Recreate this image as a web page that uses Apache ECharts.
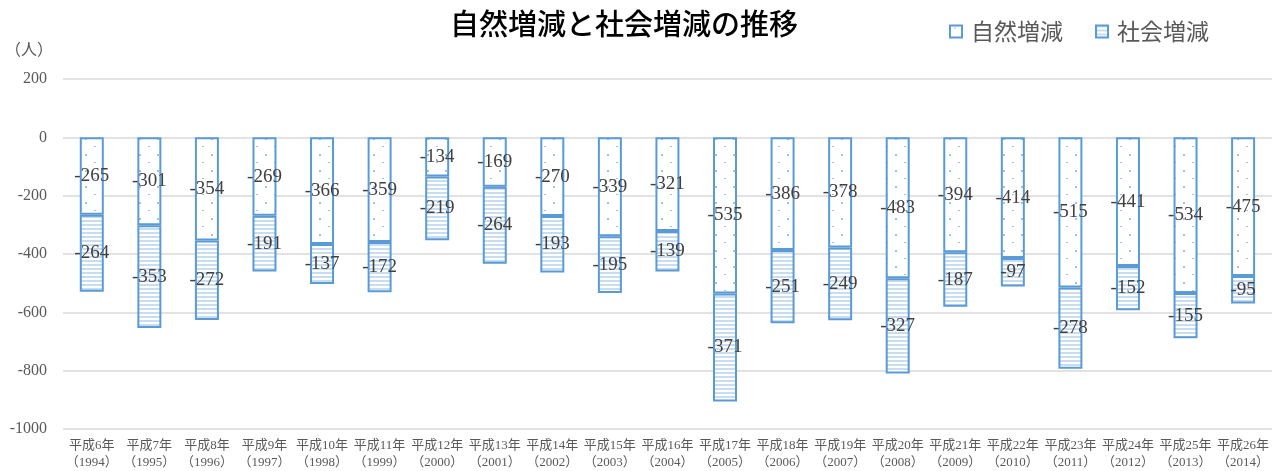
<!DOCTYPE html>
<html><head><meta charset="utf-8">
<script src="https://cdn.jsdelivr.net/npm/echarts@6/dist/echarts.min.js"></script>
<style>html,body{margin:0;padding:0;background:#fff}#c{width:1272px;height:471px}</style>
</head><body><div id="c"></div>
<script>
const categories = ['平成6年\n（1994）','平成7年\n（1995）','平成8年\n（1996）','平成9年\n（1997）','平成10年\n（1998）','平成11年\n（1999）','平成12年\n（2000）','平成13年\n（2001）','平成14年\n（2002）','平成15年\n（2003）','平成16年\n（2004）','平成17年\n（2005）','平成18年\n（2006）','平成19年\n（2007）','平成20年\n（2008）','平成21年\n（2009）','平成22年\n（2010）','平成23年\n（2011）','平成24年\n（2012）','平成25年\n（2013）','平成26年\n（2014）'];
const naturalChange = [-265,-301,-354,-269,-366,-359,-134,-169,-270,-339,-321,-535,-386,-378,-483,-394,-414,-515,-441,-534,-475];
const socialChange = [-264,-353,-272,-191,-137,-172,-219,-264,-193,-195,-139,-371,-251,-249,-327,-187,-97,-278,-152,-155,-95];
const seriesNames = ['自然増減','社会増減'];

function dotPattern(){
  const c=document.createElement('canvas');c.width=18;c.height=16;
  const g=c.getContext('2d');g.fillStyle='#fff';g.fillRect(0,0,18,16);
  g.fillStyle='#9DC3E6';g.fillRect(4,2,2,1);g.fillRect(13,10,2,2);
  return c;
}
function stripePattern(){
  const c=document.createElement('canvas');c.width=8;c.height=4;
  const g=c.getContext('2d');g.fillStyle='#fff';g.fillRect(0,0,8,4);
  g.fillStyle='#C9DDF0';g.fillRect(0,0,8,2);
  return c;
}
const serif = "'Liberation Serif','Noto Sans CJK JP',serif";
const chart = echarts.init(document.getElementById('c'));
const lbl = {show:true,position:'inside',color:'#404040',fontFamily:serif,fontSize:19};
chart.setOption({
  animation:false,
  title:{text:'自然増減と社会増減の推移',left:619,textAlign:'center',top:4,textStyle:{fontFamily:"'Noto Sans CJK JP',sans-serif",fontSize:29,fontWeight:500,color:'#000'}},
  legend:{left:944,top:15,itemWidth:12,itemHeight:12,itemGap:32,icon:'rect',
    textStyle:{fontFamily:"'Noto Sans CJK JP',sans-serif",fontSize:23,color:'#595959',padding:[0,0,0,4]}},
  grid:{left:63,top:79,width:1213,height:352,containLabel:false},
  xAxis:{type:'category',data:categories,axisLine:{show:false},axisTick:{show:false},
    axisLabel:{interval:0,color:'#595959',fontFamily:serif,fontSize:13,lineHeight:17,margin:8}},
  yAxis:{type:'value',min:-1000,max:200,interval:200,name:'（人）',nameLocation:'end',nameGap:20,
    nameTextStyle:{color:'#595959',fontFamily:serif,fontSize:16,align:'right',padding:[0,10,0,0]},
    axisLabel:{color:'#595959',fontFamily:serif,fontSize:16,margin:16,formatter:v=>String(v)},
    splitLine:{lineStyle:{color:'#D9D9D9',width:1.5}},axisLine:{show:false},axisTick:{show:false}},
  series:[
    {name:seriesNames[0],type:'bar',stack:'a',barWidth:24,data:naturalChange,
     itemStyle:{color:{image:dotPattern(),repeat:'repeat'},borderColor:'#5B9BD5',borderWidth:2},label:lbl},
    {name:seriesNames[1],type:'bar',stack:'a',barWidth:24,data:socialChange,
     itemStyle:{color:{image:stripePattern(),repeat:'repeat'},borderColor:'#5B9BD5',borderWidth:2},label:lbl}
  ]
});
</script></body></html>
